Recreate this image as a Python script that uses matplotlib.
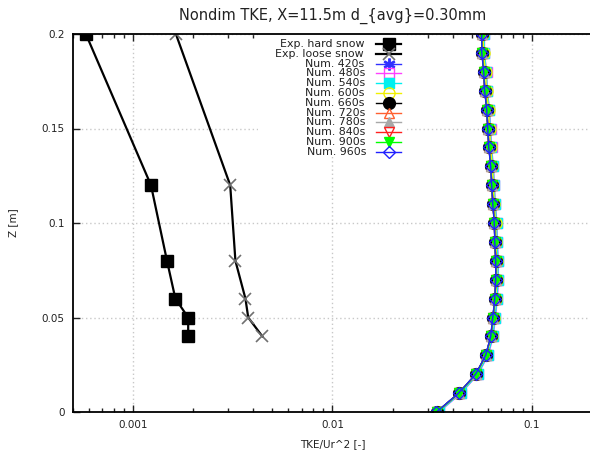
import matplotlib
matplotlib.use("Agg")
import matplotlib.pyplot as plt
from matplotlib.patches import Rectangle
from matplotlib.ticker import LogLocator, NullFormatter, FixedLocator

# experimental profiles
z_exp = [0.2, 0.12, 0.08, 0.06, 0.05, 0.04]
tke_hard = [0.00058, 0.00123, 0.00148, 0.00163, 0.00189, 0.00189]
tke_loose = [0.00164, 0.00307, 0.00326, 0.00366, 0.00378, 0.00445]

# numerical profiles
z_num = [0.00, 0.01, 0.02, 0.03, 0.04, 0.05, 0.06, 0.07, 0.08, 0.09, 0.10,
         0.11, 0.12, 0.13, 0.14, 0.15, 0.16, 0.17, 0.18, 0.19, 0.20]
num_420 = [0.0334, 0.0431, 0.0524, 0.0588, 0.0623, 0.0638, 0.0652, 0.0659, 0.0659, 0.0652, 0.0648,
           0.0638, 0.0630, 0.0622, 0.0609, 0.0602, 0.0594, 0.0581, 0.0574, 0.0562, 0.0561]
num_480 = [0.0342, 0.0442, 0.0537, 0.0603, 0.0640, 0.0656, 0.0671, 0.0679, 0.0678, 0.0671, 0.0667,
           0.0656, 0.0648, 0.0641, 0.0627, 0.0620, 0.0612, 0.0598, 0.0592, 0.0578, 0.0578]
num_540 = [0.0340, 0.0440, 0.0535, 0.0600, 0.0637, 0.0653, 0.0668, 0.0676, 0.0676, 0.0669, 0.0665,
           0.0654, 0.0646, 0.0639, 0.0625, 0.0618, 0.0611, 0.0597, 0.0591, 0.0577, 0.0577]
num_600 = [0.0335, 0.0433, 0.0527, 0.0591, 0.0627, 0.0642, 0.0657, 0.0665, 0.0666, 0.0660, 0.0657,
           0.0647, 0.0640, 0.0633, 0.0620, 0.0613, 0.0606, 0.0592, 0.0585, 0.0572, 0.0570]
num_660 = [0.0333, 0.0430, 0.0523, 0.0587, 0.0622, 0.0637, 0.0652, 0.0659, 0.0659, 0.0652, 0.0648,
           0.0637, 0.0629, 0.0622, 0.0608, 0.0601, 0.0594, 0.0580, 0.0574, 0.0562, 0.0561]
num_720 = [0.0333, 0.0430, 0.0523, 0.0587, 0.0622, 0.0637, 0.0652, 0.0659, 0.0659, 0.0652, 0.0648,
           0.0637, 0.0629, 0.0622, 0.0608, 0.0601, 0.0594, 0.0580, 0.0574, 0.0561, 0.0561]
num_780 = [0.0333, 0.0430, 0.0523, 0.0587, 0.0622, 0.0637, 0.0652, 0.0659, 0.0659, 0.0652, 0.0648,
           0.0637, 0.0629, 0.0622, 0.0608, 0.0601, 0.0594, 0.0580, 0.0574, 0.0561, 0.0561]
num_840 = [0.0333, 0.0430, 0.0523, 0.0587, 0.0622, 0.0637, 0.0652, 0.0659, 0.0659, 0.0652, 0.0648,
           0.0637, 0.0629, 0.0622, 0.0608, 0.0601, 0.0594, 0.0580, 0.0574, 0.0561, 0.0561]
num_900 = [0.0333, 0.0430, 0.0523, 0.0587, 0.0622, 0.0637, 0.0652, 0.0659, 0.0659, 0.0652, 0.0648,
           0.0637, 0.0629, 0.0622, 0.0608, 0.0601, 0.0594, 0.0580, 0.0574, 0.0561, 0.0561]
num_960 = [0.0332, 0.0429, 0.0522, 0.0586, 0.0621, 0.0636, 0.0651, 0.0658, 0.0658, 0.0651, 0.0647,
           0.0636, 0.0628, 0.0621, 0.0607, 0.0600, 0.0593, 0.0579, 0.0573, 0.0560, 0.0560]

num_labels = ["Num. 420s", "Num. 480s", "Num. 540s", "Num. 600s", "Num. 660s", "Num. 720s",
              "Num. 780s", "Num. 840s", "Num. 900s", "Num. 960s"]
num_series = [num_420, num_480, num_540, num_600, num_660, num_720, num_780, num_840, num_900, num_960]
num_colors = ["#3030ff", "#ff40ff", "#00f0f0", "#f0f000", "#000000", "#ff6030",
              "#a8a8a8", "#ff2020", "#00ff00", "#2020ff"]
# marker, filled?, size
num_markers = [("$\\ast$", True, 8), ("s", False, 7.5), ("s", True, 7.5), ("o", False, 8),
               ("o", True, 8.5), ("^", False, 7.5), ("^", True, 7.5), ("v", False, 7.5),
               ("v", True, 7.5), ("D", False, 6)]

plt.rcParams['font.family'] = ['DejaVu Sans']

fig = plt.figure(figsize=(5.9, 4.53), dpi=100)
ax = fig.add_axes([73 / 590, 41 / 453, 519 / 590, 378 / 453])

handles = []
h, = ax.plot(tke_hard, z_exp, color="black", lw=1.6, marker="s", ms=8.5,
             mfc="black", mec="black", zorder=3)
handles.append(h)
h, = ax.plot(tke_loose, z_exp, color="black", lw=1.6, marker="x", ms=9,
             mec="#707070", mew=1.2, zorder=3)
handles.append(h)

for vals, col, (mk, filled, ms) in zip(num_series, num_colors, num_markers):
    h, = ax.plot(vals, z_num, color=col, lw=1.0, marker=mk, ms=ms,
                 mfc=col if filled else "none", mec=col, mew=1.0, zorder=3)
    handles.append(h)

labels = ["Exp. hard snow", "Exp. loose snow"] + num_labels

ax.set_xscale("log")
ax.set_xlim(5e-4, 0.2)
ax.set_ylim(0, 0.2)

ax.xaxis.set_major_locator(FixedLocator([0.001, 0.01, 0.1]))
ax.set_xticklabels(["0.001", "0.01", "0.1"])
ax.xaxis.set_minor_locator(LogLocator(base=10, subs=range(2, 10)))
ax.xaxis.set_minor_formatter(NullFormatter())
ax.set_yticks([0, 0.05, 0.1, 0.15, 0.2])
ax.set_yticklabels(["0", "0.05", "0.1", "0.15", "0.2"])

ax.tick_params(axis="both", which="both", direction="in", top=True, right=False,
               labelsize=7.5, colors="#222222", width=1)
ax.tick_params(axis="both", which="major", length=5, pad=6)
ax.tick_params(axis="x", which="minor", length=3)

ax.spines["right"].set_visible(False)
for s in ["left", "bottom", "top"]:
    ax.spines[s].set_linewidth(1.3)
    ax.spines[s].set_zorder(4)

ax.grid(True, which="major", color="#c8c8c8", linestyle=(0, (1, 2)), linewidth=1)

ax.set_title("Nondim TKE, X=11.5m d_{avg}=0.30mm", fontsize=10.5, color="#222222", pad=10)
ax.set_xlabel("TKE/Ur^2 [-]", fontsize=7.5, color="#222222", labelpad=6)
ax.set_ylabel("Z [m]", fontsize=7.5, color="#222222", labelpad=17)

# white key box hiding the grid (gnuplot style opaque key)
key_left = (258 - 73) / 519
key_right = (407 - 73) / 519
key_bottom = (412 - 157) / 378
ax.add_patch(Rectangle((key_left, key_bottom), key_right - key_left, 1 - key_bottom,
                       transform=ax.transAxes, facecolor="white", edgecolor="none", zorder=3.3))

leg = ax.legend(handles, [""] * len(handles), loc="upper right",
                bbox_to_anchor=(key_right, 1.0), fontsize=7.5,
                frameon=False, labelspacing=-0.02, handlelength=2.4,
                handletextpad=0.0, borderpad=0.55, borderaxespad=0)
leg.set_zorder(3.5)

# right-aligned key texts next to each sample
fig.canvas.draw()
renderer = fig.canvas.get_renderer()
W, H = fig.canvas.get_width_height()
for line, lab in zip(leg.get_lines(), labels):
    bb = line.get_window_extent(renderer)
    yc = (bb.y0 + bb.y1) / 2
    fig.text((bb.x0 - 6) / W, yc / H, lab, ha="right", va="center",
             fontsize=7.9, color="#222222", zorder=6)

fig.savefig("out.png", dpi=100)
